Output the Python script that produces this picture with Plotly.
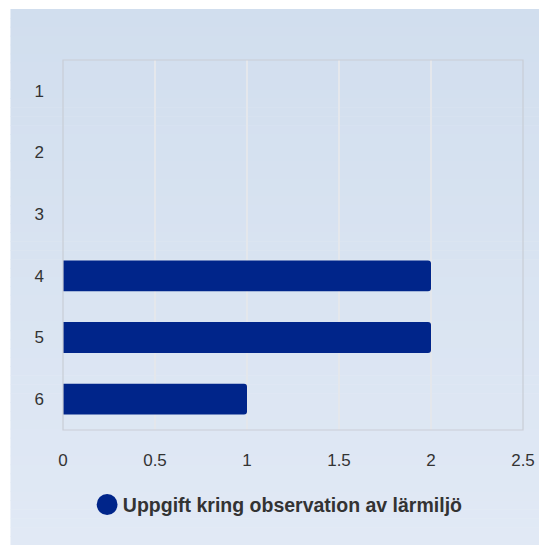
import plotly.graph_objects as go

categories = ["1", "2", "3", "4", "5", "6"]
values = [0, 0, 0, 2, 2, 1]
series_name = "Uppgift kring observation av lärmiljö"
x_ticks = [0, 0.5, 1, 1.5, 2, 2.5]
x_ticklabels = ["0", "0.5", "1", "1.5", "2", "2.5"]

OFF = 8  # page body margin offset
W, H = 547 - OFF, 545 - OFF
L, R, T, B = 63 - OFF, 527 - OFF, 60 - OFF, 430 - OFF
pw, ph = R - L, B - T

def px2x(p):
    return (p - OFF - L) / pw

def py2y(p):
    return (B - (p - OFF)) / ph

bar_color = "#00258a"
font_family = "Liberation Sans, Arial, sans-serif"

fig = go.Figure()
fig.add_trace(go.Bar(
    y=categories, x=values, orientation="h",
    marker=dict(color=bar_color, line=dict(width=0)),
    showlegend=False, name=series_name,
))
fig.add_trace(go.Scatter(
    x=[None], y=[None], mode="markers", name=series_name,
    marker=dict(symbol="circle", size=12, color="rgba(0,0,0,0)"),
    showlegend=True,
))

# gradient background panel
shapes = []
n = 60
top_c = (209, 222, 238)
bot_c = (225, 233, 245)
y0p, y1p = 9, 545
for i in range(n):
    a = y0p + (y1p - y0p) * i / n
    b = y0p + (y1p - y0p) * (i + 1) / n
    t = i / (n - 1)
    c = tuple(round(top_c[k] + (bot_c[k] - top_c[k]) * t) for k in range(3))
    shapes.append(dict(
        type="rect", xref="paper", yref="paper", layer="below",
        x0=px2x(10), x1=px2x(560), y0=py2y(b + 0.6), y1=py2y(a),
        line=dict(width=0), fillcolor="rgb(%d,%d,%d)" % c,
    ))
# plot border
shapes.append(dict(
    type="rect", xref="paper", yref="paper", layer="above",
    x0=0, x1=1, y0=0, y1=1, line=dict(width=1.2, color="#c9ced6"),
))
# legend symbol (rounded marker)
cx, cy, r = 107.5, 504.5, 10.5
shapes.append(dict(
    type="rect", xref="paper", yref="paper", layer="above",
    x0=px2x(cx - r), x1=px2x(cx + r), y0=py2y(cy + r), y1=py2y(cy - r),
    line=dict(width=0), fillcolor=bar_color,
    path=None,
))
shapes[-1] = dict(
    type="circle", xref="paper", yref="paper", layer="above",
    x0=px2x(cx - r), x1=px2x(cx + r), y0=py2y(cy + r), y1=py2y(cy - r),
    line=dict(width=0), fillcolor=bar_color,
)

fig.update_layout(
    width=W, height=H,
    margin=dict(l=L, r=W - R, t=T, b=H - B, pad=0),
    paper_bgcolor="white",
    plot_bgcolor="rgba(0,0,0,0)",
    bargap=0.5,
    barcornerradius=3,
    shapes=shapes,
    font=dict(family=font_family, size=17, color="#333333"),
    showlegend=True,
    legend=dict(
        orientation="h", x=px2x(83), xanchor="left",
        y=py2y(505), yanchor="middle",
        font=dict(family=font_family, size=19.5, color="#333333", weight="bold"),
        bgcolor="rgba(0,0,0,0)", itemsizing="constant",
    ),
    xaxis=dict(
        range=[0, 2.5], tickvals=x_ticks, ticktext=x_ticklabels,
        showgrid=True, gridcolor="#e4e7ec", gridwidth=1.5,
        zeroline=False, showline=False, ticks="",
        ticklabelstandoff=18, fixedrange=True,
    ),
    yaxis=dict(
        categoryorder="array", categoryarray=categories,
        autorange="reversed", showgrid=False, zeroline=False,
        showline=False, ticks="", ticklabelstandoff=18,
    ),
)

fig.write_html("out.html")
